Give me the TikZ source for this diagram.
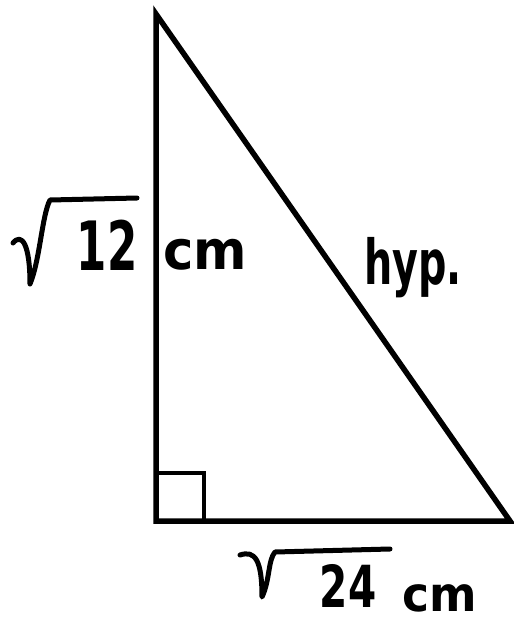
\documentclass[tikz,border=0pt]{standalone}
\usepackage{fontspec}
\setsansfont{DejaVu Sans}
\begin{document}
\begin{tikzpicture}[x=1pt,y=-1pt,
  side/.style={line width=5.5pt,line join=miter},
  rightmark/.style={line width=3.5pt},
  radical/.style={line width=5pt,line cap=round,line join=round},
  lbl/.style={inner sep=0pt,font=\sffamily\bfseries}]
\useasboundingbox (0,0) rectangle (514,632);
\coordinate (A) at (156,14);
\coordinate (B) at (156,521);
\coordinate (C) at (510,521);
\draw[side] (A) -- (B) -- (C) -- cycle;
\draw[rightmark] (156,473) -| (204,521);
% sqrt 12
\coordinate (r1a) at (13,243);
\coordinate (r1b) at (30,284);
\coordinate (r1c) at (50,200);
\coordinate (r1d) at (137,198);
\draw[radical] (r1a) .. controls (22,232) and (30,245) .. (r1b)
  .. controls (40,260) and (42,215) .. (r1c) -- (r1d);
\node[lbl] (n12) at (107,245) {\scalebox{0.64}[1]{\fontsize{68}{72}\selectfont 12}};
\node[lbl] (cm1) at (205,255) {\scalebox{0.95}[1]{\fontsize{54}{60}\selectfont cm}};
\node[lbl] (hyp) at (413,268) {\scalebox{0.64}[1]{\fontsize{62}{66}\selectfont hyp.}};
% sqrt 24
\coordinate (r2a) at (240,555);
\coordinate (r2b) at (262,597);
\coordinate (r2c) at (275,552);
\coordinate (r2d) at (390,549);
\draw[radical] (r2a) .. controls (255,550) and (262,560) .. (r2b)
  .. controls (270,580) and (268,560) .. (r2c) -- (r2d);
\node[lbl] (n24) at (348,586) {\scalebox{0.7}[1]{\fontsize{58}{62}\selectfont 24}};
\node[lbl] (cm2) at (440,598) {\scalebox{0.95}[1]{\fontsize{48}{54}\selectfont cm}};
\end{tikzpicture}
\end{document}
